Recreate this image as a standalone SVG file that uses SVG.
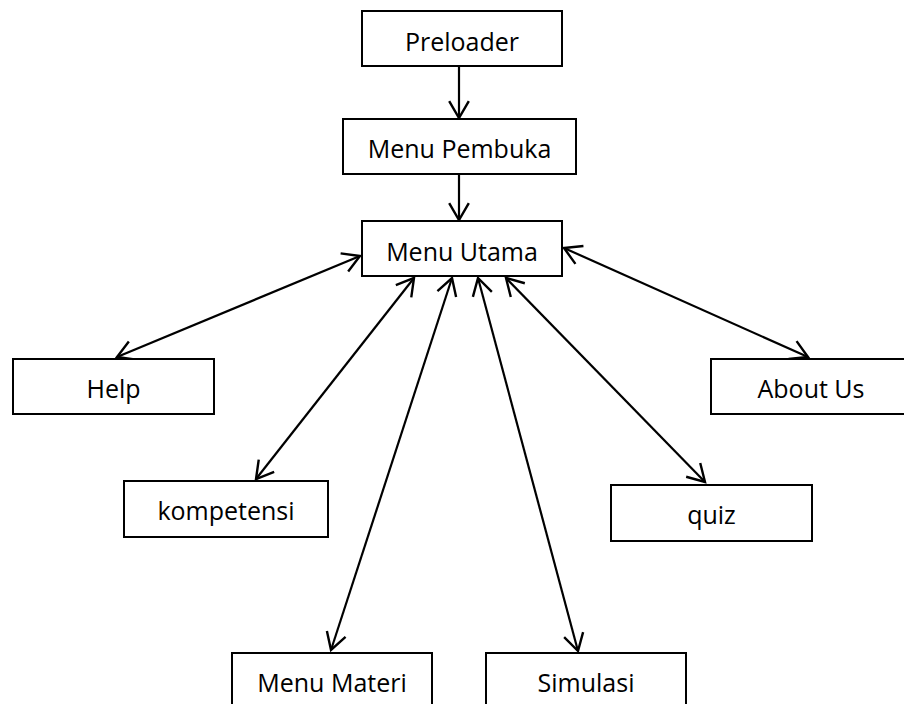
<svg xmlns="http://www.w3.org/2000/svg" width="904" height="704" viewBox="0 0 904 704">
<defs>
<style>
.box{fill:#fff;stroke:#000;stroke-width:2}
.lbl{font-family:"Open Sans","Liberation Sans",sans-serif;font-size:25px;fill:#000;text-anchor:middle}
.con{stroke:#000;stroke-width:2.2;fill:none}
.one{marker-end:url(#ah)}
.two{marker-start:url(#ah);marker-end:url(#ah)}
</style>
<marker id="ah" markerUnits="userSpaceOnUse" markerWidth="22" markerHeight="24" viewBox="-18 -11 20 22" refX="0" refY="0" orient="auto-start-reverse">
<path d="M-15.5,-9 L0,0 L-15.5,9" fill="none" stroke="#000" stroke-width="2.2"/>
</marker>
</defs>
<rect width="904" height="704" fill="#fff"/>
<g id="connectors">
<line class="con one" x1="459" y1="67" x2="459" y2="118"/>
<line class="con one" x1="459" y1="175" x2="459" y2="220"/>
<line class="con two" x1="117" y1="357" x2="360" y2="256"/>
<line class="con two" x1="256" y1="479" x2="414" y2="278"/>
<line class="con two" x1="331" y1="650" x2="452" y2="278"/>
<line class="con two" x1="578" y1="651" x2="478" y2="278"/>
<line class="con two" x1="705" y1="482" x2="506" y2="278"/>
<line class="con two" x1="808" y1="357" x2="564" y2="248"/>
</g>
<g id="preloader"><rect class="box" x="362" y="11" width="200" height="55"/><text class="lbl" x="462" y="51">Preloader</text></g>
<g id="menu-pembuka"><rect class="box" x="343" y="119" width="233" height="55"/><text class="lbl" x="459.5" y="158">Menu Pembuka</text></g>
<g id="menu-utama"><rect class="box" x="362" y="221" width="200" height="55"/><text class="lbl" x="462" y="261">Menu Utama</text></g>
<g id="help"><rect class="box" x="13" y="359" width="201" height="55"/><text class="lbl" x="113.5" y="398">Help</text></g>
<g id="about-us"><rect class="box" x="711" y="359" width="200" height="55"/><text class="lbl" x="811" y="398">About Us</text></g>
<g id="kompetensi"><rect class="box" x="124" y="481" width="204" height="56"/><text class="lbl" x="226" y="520">kompetensi</text></g>
<g id="quiz"><rect class="box" x="611" y="485" width="201" height="56"/><text class="lbl" x="711.5" y="524">quiz</text></g>
<g id="menu-materi"><rect class="box" x="232" y="653" width="200" height="56"/><text class="lbl" x="332" y="692">Menu Materi</text></g>
<g id="simulasi"><rect class="box" x="486" y="653" width="200" height="56"/><text class="lbl" x="586" y="692">Simulasi</text></g>
</svg>
